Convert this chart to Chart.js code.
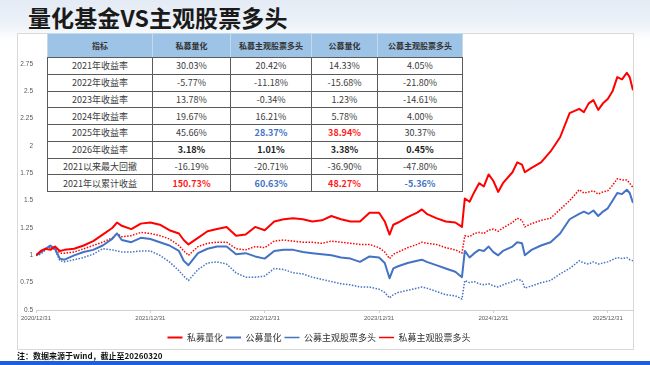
<!DOCTYPE html>
<html lang="zh-CN">
<head>
<meta charset="utf-8">
<title>量化基金VS主观股票多头</title>
<script src="https://cdn.jsdelivr.net/npm/chart.js@4.4.1/dist/chart.umd.min.js"></script>
<style>
  html, body { margin: 0; padding: 0; }
  body {
    width: 650px; height: 365px; position: relative; overflow: hidden;
    background: linear-gradient(180deg, #e4ebf5 0px, #edf2f8 24px, #ffffff 40px);
    font-family: "Noto Sans CJK SC", "Noto Sans", sans-serif;
  }
  .title {
    position: absolute; left: 28px; top: 6px;
    font-size: 23px; font-weight: 700; line-height: 1; color: #1a1a1a; letter-spacing: 0.1px;
  }
  .frame {
    position: absolute; left: 17px; top: 33px; width: 617px; height: 317px;
    box-sizing: border-box; border: 1px solid #d9d9d9; background: #fff;
  }
  #chart { position: absolute; left: 0; top: 0; }
  #stats {
    position: absolute; left: 47px; top: 33px; width: 415px;
    border-collapse: collapse; table-layout: fixed; background: #fff;
    font-size: 9px; color: #3c3c3c; text-align: center;
  }
  #stats th {
    background: #9dc3e6; height: 23px; padding: 0;
    font-size: 8px; font-weight: 600; color: #333;
    border: 1px solid #c7d8ea; border-bottom-color: #5a5a5a;
  }
  #stats td { height: 15.75px; padding: 0; line-height: 1; border: 1px solid #5a5a5a; }
  #stats .b { font-weight: 700; color: #222; }
  #stats .red { color: #ff1a1a; font-weight: 700; }
  #stats .blue { color: #4472c4; font-weight: 700; }
  .note {
    position: absolute; left: 17px; top: 351px; line-height: 10px;
    font-size: 8px; font-weight: 700; color: #111;
  }
  .bar { position: absolute; left: 0; top: 361px; width: 650px; height: 4px; background: #1d5fd9; }
</style>
</head>
<body>
<div class="title">量化基金VS主观股票多头</div>
<div class="frame"></div>
<canvas id="chart" width="650" height="365"></canvas>
<table id="stats"></table>
<div class="note">注：数据来源于wind，截止至20260320</div>
<div class="bar"></div>

<script>
// x position: months since 2020/12/31
const months = [0, 0.5, 1, 1.5, 2, 2.5, 3,
  4, 5, 6, 7, 8, 8.5,
  9, 10, 11, 12, 13, 14, 15, 15.5,
  16, 17, 18, 19, 20, 21, 22, 23, 24, 25, 26, 27, 28, 29, 30, 31, 32, 33, 34, 35, 36,
  36.6, 37.1, 37.5, 38, 39, 40, 40.5, 41, 42, 43, 44, 44.7,
  45, 45.5, 46, 46.5, 47, 47.5, 48, 48.5, 49,
  50, 50.5, 51, 51.3, 52, 53, 54, 55, 56, 57,
  57.5, 58, 58.5, 59, 59.5, 60, 60.5, 61, 61.5, 62, 62.3, 62.65];

const privateQuant = [1.00, 1.04, 1.06, 1.05, 1.08, 1.04, 1.05,
  1.06, 1.09, 1.13, 1.19, 1.25, 1.30,
  1.27, 1.24, 1.29, 1.30, 1.28, 1.23, 1.20, 1.14,
  1.10, 1.16, 1.22, 1.24, 1.26, 1.18, 1.19, 1.26, 1.23, 1.31, 1.33, 1.34, 1.33, 1.31, 1.32, 1.36, 1.33, 1.31, 1.31, 1.39, 1.39,
  1.31, 1.19, 1.28, 1.30, 1.35, 1.39, 1.42, 1.38, 1.34, 1.31, 1.30, 1.26,
  1.52, 1.49, 1.58, 1.66, 1.63, 1.74, 1.68, 1.58, 1.66,
  1.76, 1.85, 1.83, 1.76, 1.80, 1.85, 1.95, 2.08, 2.30, 2.34,
  2.31, 2.39, 2.42, 2.33, 2.39, 2.43, 2.50, 2.63, 2.61, 2.67, 2.63, 2.51];

const publicQuant = [1.00, 1.03, 1.06, 1.09, 1.06, 0.97, 0.96,
  1.00, 1.03, 1.05, 1.09, 1.15, 1.20,
  1.14, 1.12, 1.16, 1.15, 1.12, 1.09, 1.04, 0.95,
  0.91, 1.02, 1.06, 1.08, 1.08, 1.01, 1.02, 0.99, 0.97, 1.04, 1.05, 1.05, 1.03, 1.02, 1.01, 1.00, 0.98, 0.97, 0.94, 0.99, 0.98,
  0.93, 0.79, 0.88, 0.90, 0.93, 0.95, 0.96, 0.94, 0.91, 0.88, 0.85, 0.80,
  1.04, 0.98, 1.02, 1.05, 1.04, 1.08, 1.03, 1.00, 1.04,
  1.08, 1.12, 1.11, 1.00, 1.05, 1.09, 1.12, 1.20, 1.33, 1.38,
  1.40, 1.38, 1.41, 1.36, 1.40, 1.43, 1.50, 1.57, 1.56, 1.60, 1.57, 1.48];

const publicActive = [1.00, 1.01, 1.05, 1.08, 1.05, 0.95, 0.94,
  0.96, 0.98, 1.01, 1.06, 1.05, 1.04,
  1.03, 1.03, 1.04, 1.04, 1.00, 0.94, 0.86, 0.81,
  0.77, 0.87, 0.93, 0.94, 0.92, 0.84, 0.80, 0.80, 0.81, 0.88, 0.87, 0.84, 0.83, 0.80, 0.78, 0.76, 0.74, 0.73, 0.71, 0.71, 0.69,
  0.66, 0.61, 0.64, 0.66, 0.68, 0.70, 0.71, 0.70, 0.67, 0.64, 0.63, 0.60,
  0.77, 0.75, 0.76, 0.74, 0.73, 0.74, 0.72, 0.71, 0.73,
  0.76, 0.78, 0.77, 0.70, 0.72, 0.75, 0.77, 0.83, 0.88, 0.95,
  0.93, 0.92, 0.94, 0.92, 0.93, 0.94, 0.96, 0.98, 0.97, 0.98, 0.96, 0.95];

const privateActive = [1.00, 1.03, 1.05, 1.07, 1.08, 1.02, 1.02,
  1.03, 1.06, 1.09, 1.12, 1.16, 1.20,
  1.17, 1.18, 1.21, 1.20, 1.18, 1.15, 1.09, 1.04,
  1.00, 1.08, 1.11, 1.12, 1.12, 1.06, 1.05, 1.08, 1.07, 1.13, 1.14, 1.13, 1.12, 1.12, 1.11, 1.13, 1.12, 1.11, 1.10, 1.10, 1.07,
  1.03, 0.97, 1.01, 1.03, 1.07, 1.10, 1.12, 1.11, 1.10, 1.07, 1.05, 1.02,
  1.18, 1.17, 1.20, 1.21, 1.20, 1.23, 1.24, 1.22, 1.25,
  1.30, 1.34, 1.32, 1.26, 1.29, 1.32, 1.34, 1.42, 1.50, 1.60,
  1.57, 1.58, 1.59, 1.56, 1.58, 1.59, 1.64, 1.70, 1.69, 1.69, 1.66, 1.62];

const xTickMonths = [0, 12, 24, 36, 48, 60];
const xTickLabels = ['2020/12/31', '2021/12/31', '2022/12/31', '2023/12/31', '2024/12/31', '2025/12/31'];

// table
const tableHeaders = ['指标', '私募量化', '私募主观股票多头', '公募量化', '公募主观股票多头'];
const rowLabels = ['2021年收益率', '2022年收益率', '2023年收益率', '2024年收益率', '2025年收益率', '2026年收益率', '2021以来最大回撤', '2021年以累计收益'];
const colPrivateQuant = ['30.03%', '-5.77%', '13.78%', '19.67%', '45.66%', '3.18%', '-16.19%', '150.73%'];
const colPrivateActive = ['20.42%', '-11.18%', '-0.34%', '16.21%', '28.37%', '1.01%', '-20.71%', '60.63%'];
const colPublicQuant = ['14.33%', '-15.68%', '1.23%', '5.78%', '38.94%', '3.38%', '-36.90%', '48.27%'];
const colPublicActive = ['4.05%', '-21.80%', '-14.61%', '4.00%', '30.37%', '0.45%', '-47.80%', '-5.36%'];

const cellClass = {
  '4,2': 'blue', '4,3': 'red',
  '5,1': 'b', '5,2': 'b', '5,3': 'b', '5,4': 'b',
  '7,1': 'red', '7,2': 'blue', '7,3': 'red', '7,4': 'blue'
};
const colWidths = [105, 78, 81, 66, 85];

const table = document.getElementById('stats');
let html = '<colgroup>' + colWidths.map(w => '<col style="width:' + w + 'px">').join('') + '</colgroup>';
html += '<tr>' + tableHeaders.map(h => '<th>' + h + '</th>').join('') + '</tr>';
rowLabels.forEach((label, r) => {
    const cells = [label, colPrivateQuant[r], colPrivateActive[r], colPublicQuant[r], colPublicActive[r]];
    html += '<tr>' + cells.map((c, i) => {
        const cls = cellClass[r + ',' + i];
        return '<td' + (cls ? ' class="' + cls + '"' : '') + '>' + c + '</td>';
    }).join('') + '</tr>';
});
table.innerHTML = html;

// chart
const toPoints = arr => arr.map((v, i) => ({ x: months[i], y: v }));

new Chart(document.getElementById('chart'), {
    type: 'line',
    data: {
        datasets: [
            { label: '私募量化', data: toPoints(privateQuant), borderColor: '#ff0000', borderWidth: 2 },
            { label: '公募量化', data: toPoints(publicQuant), borderColor: '#4472c4', borderWidth: 2 },
            { label: '公募主观股票多头', data: toPoints(publicActive), borderColor: '#4472c4', borderWidth: 1.5, borderDash: [1.5, 1.5] },
            { label: '私募主观股票多头', data: toPoints(privateActive), borderColor: '#ff0000', borderWidth: 1.5, borderDash: [1.5, 1.5] }
        ]
    },
    options: {
        responsive: false,
        animation: false,
        layout: { padding: { left: 5, right: 17, top: 64, bottom: 13 } },
        elements: {
            point: { radius: 0 },
            line: { tension: 0, borderJoinStyle: 'round', fill: false }
        },
        scales: {
            x: {
                type: 'linear',
                min: 0,
                max: 62.65,
                afterBuildTicks: scale => { scale.ticks = xTickMonths.map(v => ({ value: v })); },
                afterFit: scale => { scale.height = 20; },
                ticks: {
                    autoSkip: false,
                    maxRotation: 0,
                    padding: 2,
                    color: '#595959',
                    font: { size: 6, family: 'Liberation Sans' },
                    callback: (value, index) => xTickLabels[index]
                },
                grid: { drawOnChartArea: false, tickLength: 3, color: '#d0d0d0' },
                border: { color: '#d0d0d0' }
            },
            y: {
                min: 0.5,
                max: 2.75,
                afterFit: scale => { scale.width = 31; },
                ticks: {
                    stepSize: 0.25,
                    padding: 3,
                    color: '#595959',
                    font: { size: 6.5, family: 'Liberation Sans' },
                    callback: value => String(Number(value.toFixed(2)))
                },
                grid: { display: false, drawTicks: false },
                border: { display: false }
            }
        },
        plugins: {
            legend: {
                position: 'bottom',
                labels: {
                    usePointStyle: true,
                    pointStyle: 'line',
                    pointStyleWidth: 15,
                    boxWidth: 15,
                    padding: 3,
                    color: '#333',
                    font: { size: 9, family: 'Noto Sans CJK SC' }
                }
            },
            tooltip: { enabled: false }
        }
    }
});
</script>
</body>
</html>
